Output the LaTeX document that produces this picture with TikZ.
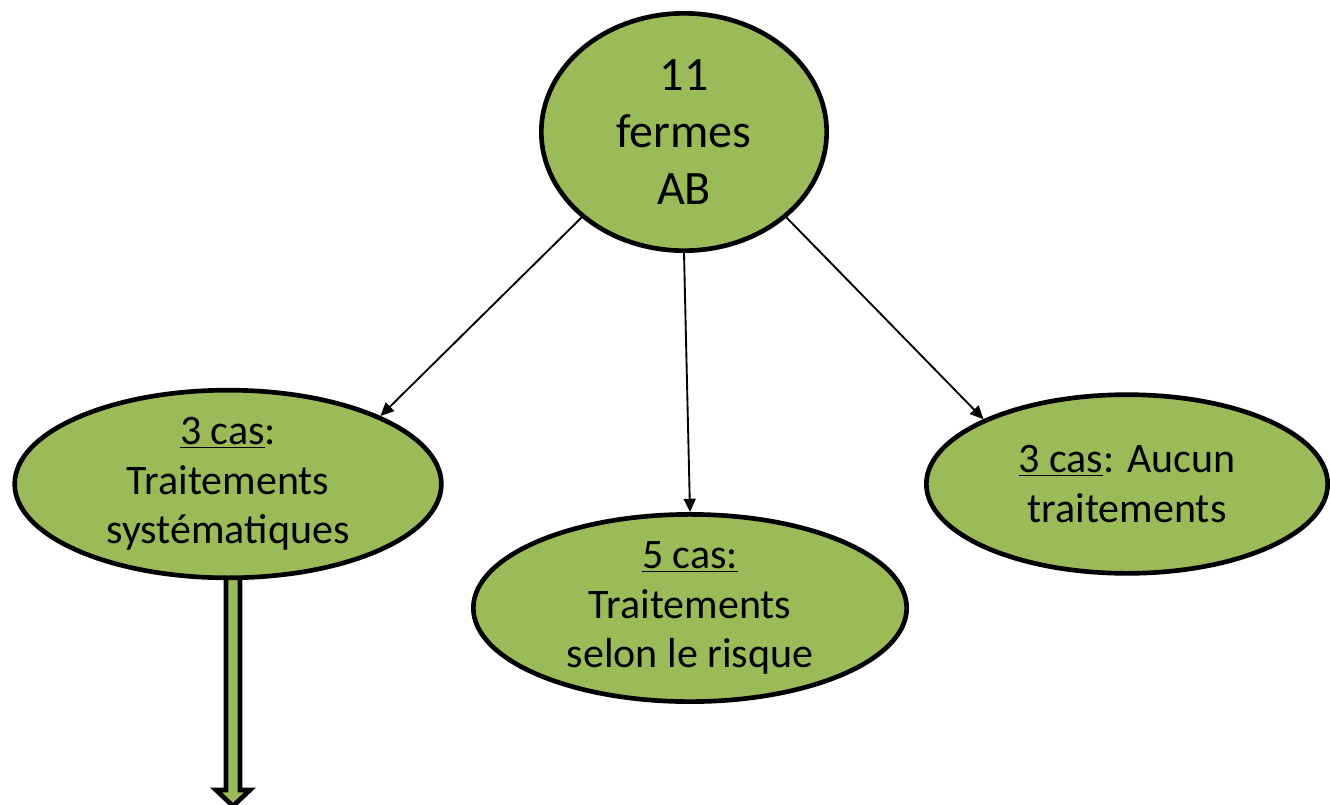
\documentclass[tikz,border=0pt]{standalone}
\usepackage{fontspec}
\setmainfont{Carlito}
\usetikzlibrary{shapes.geometric,arrows.meta}
\definecolor{farmgreen}{RGB}{155,187,89}
\begin{document}
\begin{tikzpicture}[x=0.75pt,y=-0.75pt,
  farm/.style={ellipse,draw,line width=3.5pt,fill=farmgreen,inner sep=0pt,align=center,font=\fontsize{31.5}{37}\selectfont},
  link/.style={-{Triangle[length=10pt,width=9pt]},line width=1.4pt}]
\useasboundingbox (0,0) rectangle (1330,804);
% big arrow under the left case
\draw[line width=3.5pt,fill=farmgreen] (226,560)--(226,790)--(216,790)--(233,806)--(250,790)--(240,790)--(240,560)--cycle;
\node[farm,minimum width=214pt,minimum height=178pt,font=\fontsize{36}{43}\selectfont] (root) at (684,132) {11\\fermes\\AB};
\node[farm,minimum width=320pt,minimum height=134pt] (sys) at (228,484) {\underline{3 cas}:\\Traitements\\systématiques};
\node[farm,minimum width=325pt,minimum height=139pt] (risk) at (690,608) {\underline{5 cas:}\\Traitements\\selon le risque};
\node[farm,minimum width=301pt,minimum height=134pt] (none) at (1127,484) {\underline{3 cas}: Aucun\\traitements};
\draw[link] (root.south west)--(sys.north east);
\draw[link] (root.south)--(risk.north);
\draw[link] (root.south east)--(none.north west);
\end{tikzpicture}
\end{document}
